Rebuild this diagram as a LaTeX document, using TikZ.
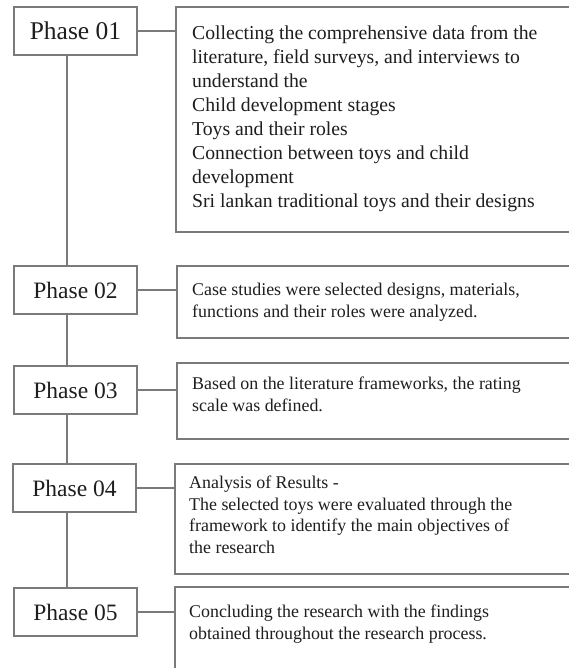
\documentclass[tikz,border=0pt]{standalone}
\usepackage{fontspec}
\setmainfont{Liberation Serif}
\definecolor{linec}{HTML}{7A7A7A}
\definecolor{txtc}{HTML}{1E1E1E}
\begin{document}
\begin{tikzpicture}[x=1pt,y=1pt,
  phasebox/.style={draw=linec, line width=1.4pt, inner sep=0pt, outer sep=0pt,
    minimum width=123pt, minimum height=48pt, anchor=north west, text=txtc,
    font=\fontsize{23.5}{26}\selectfont},
  infobox/.style={draw=linec, line width=1.4pt, inner sep=0pt, outer sep=0pt,
    minimum width=420pt, anchor=north west},
  infotext/.style={anchor=north west, inner sep=0pt, align=left, text=txtc,
    font=\fontsize{17.9}{21.5}\selectfont},
  link/.style={draw=linec, line width=1.4pt}
]
\useasboundingbox (0,0) rectangle (569,-668);
\clip (0,0) rectangle (569,-668);
\fill[white] (0,0) rectangle (569,-668);
\coordinate (spine) at (67,0);

% phase boxes
\node[phasebox, font=\fontsize{25.5}{28}\selectfont] (p1) at (14,-7) {Phase 01};
\node[phasebox] (p2) at (14,-266) {Phase 02};
\node[phasebox] (p3) at (14,-366) {Phase 03};
\node[phasebox] (p4) at (13,-464) {Phase 04};
\node[phasebox] (p5) at (14,-588) {Phase 05};

% info boxes
\node[infobox, minimum height=225pt] (b1) at (176,-7) {};
\node[infobox, minimum height=72pt] (b2) at (177,-266) {};
\node[infobox, minimum height=76pt] (b3) at (177,-363) {};
\node[infobox, minimum height=110pt] (b4) at (175,-464) {};
\node[infobox, minimum height=120pt] (b5) at (175,-587) {};

% texts
\node[infotext, font=\fontsize{19.7}{24}\selectfont] (t1) at (192,-25)
 {Collecting the comprehensive data from the\\
  literature, field surveys, and interviews to\\
  understand the\\
  Child development stages\\
  Toys and their roles\\
  Connection between toys and child\\
  development\\
  Sri lankan traditional toys and their designs};
\node[infotext] (t2) at (192,-283)
 {Case studies were selected designs, materials,\\
  functions and their roles were analyzed.};
\node[infotext] (t3) at (192,-377)
 {Based on the literature frameworks, the rating\\
  scale was defined.};
\node[infotext] (t4) at (189,-476)
 {Analysis of Results -\\
  The selected toys were evaluated through the\\
  framework to identify the main objectives of\\
  the research};
\node[infotext] (t5) at (189,-605)
 {Concluding the research with the findings\\
  obtained throughout the research process.};

% horizontal connectors
\draw[link] (p1.east) -- (p1.east -| b1.west);
\draw[link] (p2.east) -- (p2.east -| b2.west);
\draw[link] (p3.east) -- (p3.east -| b3.west);
\draw[link] (p4.east) -- (p4.east -| b4.west);
\draw[link] (p5.east) -- (p5.east -| b5.west);

% vertical spine
\draw[link] (p1.south -| spine) -- (p2.north -| spine);
\draw[link] (p2.south -| spine) -- (p3.north -| spine);
\draw[link] (p3.south -| spine) -- (p4.north -| spine);
\draw[link] (p4.south -| spine) -- (p5.north -| spine);
\end{tikzpicture}
\end{document}
